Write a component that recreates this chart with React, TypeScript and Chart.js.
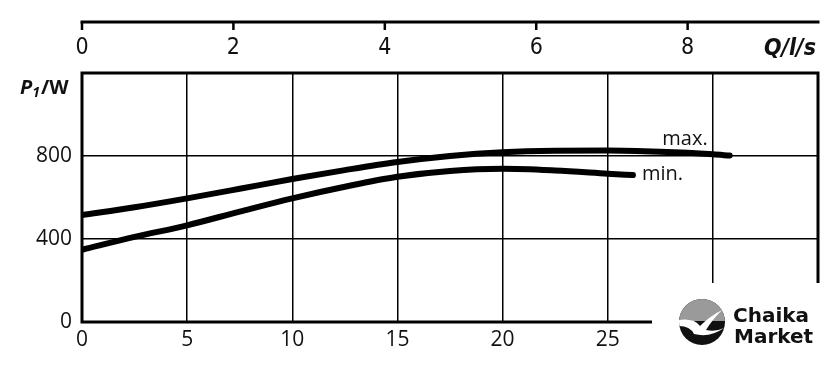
import { useEffect, useRef } from 'react';
import { Chart, registerables } from 'chart.js';
Chart.register(...registerables);

// Flow in m³/h (bottom axis) and power P1 in W
const maxFlow = [0, 2.5, 5, 7.5, 10, 12.5, 15, 17.5, 20, 22.5, 25, 27.5, 30, 30.8];
const maxPower = [515, 553, 596, 642, 689, 732, 771, 800, 818, 825, 826, 820, 808, 802];
const minFlow = [0, 2.5, 5, 7.5, 10, 12.5, 15, 17.5, 20, 22.5, 25, 26.2];
const minPower = [348, 410, 466, 532, 596, 652, 700, 728, 738, 730, 715, 708];

const flowMax = 35; // m³/h
const powerMax = 1200;
const powerStep = 400;
const flowStep = 5;
const litreTicks = [0, 2, 4, 6, 8]; // l/s on top axis
const curveNames = ['max.', 'min.'];

const tickFont = '"Open Sans", "DejaVu Sans", sans-serif';
const narrowFont = '"Liberation Sans Narrow", "DejaVu Sans Condensed", sans-serif';

export default function App() {
  const ref = useRef<HTMLCanvasElement | null>(null);
  useEffect(() => {
    document.body.style.margin = '0';
    const canvas = ref.current!;
    const decor = {
      id: 'decor',
      afterDraw(chart: any) {
        const ctx = chart.ctx as CanvasRenderingContext2D;
        const a = chart.chartArea;
        const x2 = chart.scales.x2;
        const xs = chart.scales.x;
        const ys = chart.scales.y;
        ctx.save();
        // plot border
        ctx.strokeStyle = '#000';
        ctx.lineWidth = 3;
        ctx.strokeRect(a.left, a.top, a.right - a.left, a.bottom - a.top);
        // top axis line and ticks
        const axisY = a.top - 51;
        ctx.beginPath();
        ctx.moveTo(a.left - 1.5, axisY);
        ctx.lineTo(a.right + 1.5, axisY);
        ctx.stroke();
        ctx.lineWidth = 2.5;
        for (const v of litreTicks) {
          const px = x2.getPixelForValue(v);
          ctx.beginPath();
          ctx.moveTo(px, axisY);
          ctx.lineTo(px, axisY + 8);
          ctx.stroke();
        }
        // axis titles
        ctx.fillStyle = '#111';
        ctx.textBaseline = 'middle';
        ctx.textAlign = 'right';
        ctx.font = 'italic bold 23px ' + narrowFont;
        ctx.fillText('Q/l/s', a.right - 2, 49);
        ctx.textAlign = 'left';
        ctx.textBaseline = 'alphabetic';
        let tx = 20;
        ctx.font = 'italic bold 20px ' + tickFont;
        ctx.fillText('P', tx, 94);
        tx += ctx.measureText('P').width;
        ctx.font = 'italic bold 14px ' + tickFont;
        ctx.fillText('1', tx, 97);
        tx += ctx.measureText('1').width + 1;
        ctx.font = 'bold 20px ' + tickFont;
        ctx.fillText('/W', tx, 94);
        // curve labels
        ctx.font = '20px ' + tickFont;
        const mxEnd = maxFlow.length - 1;
        ctx.textAlign = 'right';
        ctx.textBaseline = 'middle';
        ctx.fillText(curveNames[0], xs.getPixelForValue(maxFlow[mxEnd]) - 22, ys.getPixelForValue(maxPower[mxEnd]) - 16);
        const mnEnd = minFlow.length - 1;
        ctx.textAlign = 'left';
        ctx.fillText(curveNames[1], xs.getPixelForValue(minFlow[mnEnd]) + 9, ys.getPixelForValue(minPower[mnEnd]) - 1);
        // watermark box
        ctx.fillStyle = '#fff';
        ctx.fillRect(652, 283, 188, 91);
        // logo
        const cx = 702, cy = 322, r = 23;
        ctx.beginPath();
        ctx.arc(cx, cy, r, 0, Math.PI * 2);
        ctx.fillStyle = '#111';
        ctx.fill();
        ctx.save();
        ctx.beginPath();
        ctx.arc(cx, cy, r, 0, Math.PI * 2);
        ctx.clip();
        ctx.fillStyle = '#9a9a9a';
        ctx.fillRect(cx - r, cy - r, 2 * r, r - 1);
        ctx.fillStyle = '#fff';
        ctx.beginPath();
        ctx.moveTo(cx - r, cy - 2);
        ctx.quadraticCurveTo(cx - 8, cy - 4, cx - 2, cy + 4);
        ctx.quadraticCurveTo(cx + 8, cy - 6, cx + 20, cy - 12);
        ctx.quadraticCurveTo(cx + 10, cy - 2, cx + 4, cy + 8);
        ctx.quadraticCurveTo(cx + 14, cy + 10, cx + 22, cy + 6);
        ctx.quadraticCurveTo(cx + 8, cy + 16, cx - 8, cy + 12);
        ctx.quadraticCurveTo(cx - 12, cy + 4, cx - r, cy + 4);
        ctx.closePath();
        ctx.fill();
        ctx.restore();
        ctx.fillStyle = '#111';
        ctx.textAlign = 'left';
        ctx.textBaseline = 'alphabetic';
        ctx.font = 'bold 20px "DejaVu Sans", sans-serif';
        ctx.fillText('Chaika', 733, 322);
        ctx.fillText('Market', 734, 343);
        ctx.restore();
      },
    };
    const lineStyle = {
      borderColor: '#000',
      borderWidth: 6,
      pointRadius: 0,
      tension: 0.4,
      cubicInterpolationMode: 'monotone' as const,
      borderCapStyle: 'round' as const,
      fill: false,
    };
    const chart = new Chart(canvas, {
      type: 'line',
      data: {
        datasets: [
          { ...lineStyle, label: curveNames[0], data: maxFlow.map((q, i) => ({ x: q, y: maxPower[i] })) },
          { ...lineStyle, label: curveNames[1], data: minFlow.map((q, i) => ({ x: q, y: minPower[i] })) },
        ],
      },
      options: {
        animation: false,
        responsive: false,
        layout: { padding: { left: 0, right: 22, top: 0, bottom: 0 } },
        plugins: { legend: { display: false }, tooltip: { enabled: false } },
        scales: {
          x: {
            type: 'linear',
            position: 'bottom',
            min: 0,
            max: flowMax,
            afterFit: (s: any) => { s.height = 52; },
            ticks: { stepSize: flowStep, autoSkip: false, maxRotation: 0, padding: 5, color: '#111', font: { family: tickFont, size: 21 } },
            grid: { color: '#000', lineWidth: 1.5, drawTicks: false },
            border: { display: false },
          },
          x2: {
            type: 'linear',
            position: 'top',
            min: 0,
            max: flowMax / 3.6,
            afterFit: (s: any) => { s.height = 73; },
            afterBuildTicks: (s: any) => { s.ticks = litreTicks.map((v) => ({ value: v })); },
            ticks: {
              autoSkip: false,
              maxRotation: 0,
              padding: 11,
              color: '#111',
              font: { family: narrowFont, size: 23 },
            },
            grid: { display: false, drawTicks: false },
            border: { display: false },
          },
          y: {
            type: 'linear',
            min: 0,
            max: powerMax,
            afterFit: (s: any) => { s.width = 82; },
            ticks: {
              stepSize: powerStep,
              padding: 10,
              color: '#111',
              font: { family: tickFont, size: 21 },
              callback: (v: any) => (v >= powerMax ? '' : String(v)),
            },
            grid: { color: '#000', lineWidth: 1.5, drawTicks: false },
            border: { display: false },
          },
        },
      },
      plugins: [decor],
    });
    return () => chart.destroy();
  }, []);
  return (
    <div style={{ position: 'absolute', left: 0, top: 0, width: 840, height: 374, background: '#fff' }}>
      <canvas ref={ref} width={840} height={374} />
    </div>
  );
}
